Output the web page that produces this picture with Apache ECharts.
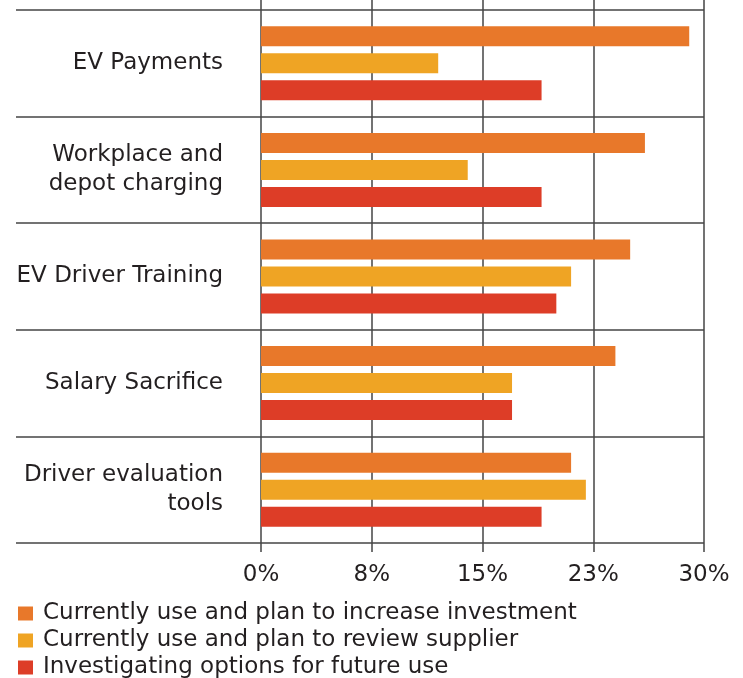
<!DOCTYPE html>
<html>
<head>
<meta charset="utf-8">
<script src="https://cdn.jsdelivr.net/npm/echarts@6/dist/echarts.min.js"></script>
<style>
  html, body { margin: 0; padding: 0; background: #fff; }
  #chart { width: 743px; height: 678px; }
</style>
</head>
<body>
<div id="chart"></div>
<script>
// categories, top to bottom
const categories = [
  'EV Payments',
  'Workplace and\ndepot charging',
  'EV Driver Training',
  'Salary Sacrifice',
  'Driver evaluation\ntools'
];

const seriesNames = [
  'Currently use and plan to increase investment',
  'Currently use and plan to review supplier',
  'Investigating options for future use'
];

// percentages
const increaseInvestment = [29, 26, 25, 24, 21];
const reviewSupplier = [12, 14, 21, 17, 22];
const investigating = [19, 19, 20, 17, 19];

const colors = ['#E8782A', '#EFA424', '#DD3D27'];

const chart = echarts.init(document.getElementById('chart'), null, { renderer: 'canvas' });

const gridLine = { color: '#444', width: 1.5 };
const labelFont = { fontFamily: 'DejaVu Sans', fontSize: 23, color: '#231f20' };

function makeBar(name, data, color) {
  return {
    name: name,
    type: 'bar',
    xAxisIndex: 0,
    yAxisIndex: 0,
    data: data,
    barWidth: 20,
    barGap: '35%',
    itemStyle: { color: color },
    animation: false
  };
}

chart.setOption({
  backgroundColor: '#fff',
  animation: false,
  grid: [
    // bars
    { left: 261, right: 39, top: 10, bottom: 135 },
    // wide grid only for the long category separators
    { left: 16, right: 39, top: 10, bottom: 135 }
  ],
  legend: {
    orient: 'vertical',
    left: 18,
    top: 602,
    height: 120,
    padding: 0,
    icon: 'rect',
    itemWidth: 15,
    itemHeight: 14,
    itemGap: 4,
    textStyle: { fontFamily: 'DejaVu Sans', fontSize: 23, color: '#231f20', lineHeight: 22, padding: [0, 0, 0, 5] },
    data: seriesNames
  },
  xAxis: [
    {
      gridIndex: 0,
      type: 'value',
      min: 0,
      max: 30,
      interval: 7.5,
      axisLine: { show: false },
      axisTick: { show: true, length: 9, lineStyle: gridLine },
      splitLine: { show: true, lineStyle: gridLine },
      axisLabel: Object.assign({
        margin: 21,
        formatter: function (v) { return Math.round(v) + '%'; }
      }, labelFont)
    },
    {
      gridIndex: 0,
      type: 'value',
      position: 'top',
      min: 0,
      max: 30,
      interval: 7.5,
      axisLine: { show: false },
      axisTick: { show: true, length: 10, lineStyle: gridLine },
      splitLine: { show: false },
      axisLabel: { show: false }
    },
    {
      gridIndex: 1,
      type: 'value',
      show: false
    }
  ],
  yAxis: [
    {
      gridIndex: 0,
      type: 'category',
      inverse: true,
      data: categories,
      axisLine: { show: false },
      axisTick: { show: false },
      splitLine: { show: false },
      axisLabel: Object.assign({
        margin: 38,
        align: 'right',
        lineHeight: 29
      }, labelFont)
    },
    {
      gridIndex: 1,
      type: 'category',
      inverse: true,
      data: categories,
      axisLine: { show: false },
      axisTick: { show: false },
      axisLabel: { show: false },
      splitLine: { show: true, lineStyle: gridLine }
    }
  ],
  series: [
    makeBar(seriesNames[0], increaseInvestment, colors[0]),
    makeBar(seriesNames[1], reviewSupplier, colors[1]),
    makeBar(seriesNames[2], investigating, colors[2])
  ]
});
</script>
</body>
</html>
